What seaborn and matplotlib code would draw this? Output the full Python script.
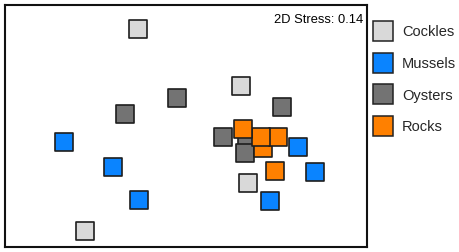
import numpy as np
import pandas as pd
import matplotlib
matplotlib.use("Agg")
import matplotlib.pyplot as plt
from matplotlib.lines import Line2D
import seaborn as sns

# MDS ordination coordinates
groups = ["Cockles", "Mussels", "Oysters", "Rocks"]
colors = ["#d9d9d9", "#0a84ff", "#737373", "#ff8000"]

cockles_x = [-0.48, 0.55, 0.62, -1.01]
cockles_y = [0.97, 0.40, -0.57, -1.05]
mussels_x = [-1.22, -0.73, -0.47, 0.84, 1.29, 1.12]
mussels_y = [-0.16, -0.41, -0.74, -0.75, -0.46, -0.21]
oysters_x = [-0.09, 0.96, -0.61, 0.37, 0.61, 0.59]
oysters_y = [0.28, 0.19, 0.12, -0.11, -0.18, -0.27]
rocks_x = [0.89, 0.77, 0.92, 0.75, 0.57]
rocks_y = [-0.45, -0.22, -0.11, -0.11, -0.03]

stress = 0.14

sns.set_theme(style="white")
plt.rcParams["font.family"] = ["Liberation Sans", "DejaVu Sans"]

df = pd.concat([
    pd.DataFrame({"x": cockles_x, "y": cockles_y, "group": "Cockles"}),
    pd.DataFrame({"x": mussels_x, "y": mussels_y, "group": "Mussels"}),
    pd.DataFrame({"x": oysters_x, "y": oysters_y, "group": "Oysters"}),
    pd.DataFrame({"x": rocks_x, "y": rocks_y, "group": "Rocks"}),
], ignore_index=True)

fig = plt.figure(figsize=(4.59, 2.52), dpi=100)
ax = fig.add_axes([5 / 459, 1 - 247 / 252, 362 / 459, 242 / 252])

palette = dict(zip(groups, colors))
for g in groups:
    sns.scatterplot(data=df[df["group"] == g], x="x", y="y", color=palette[g],
                    marker="s", s=150, edgecolor="#1e1e1e", linewidth=1.2,
                    legend=False, ax=ax)

ax.set_xlim(-1.81, 1.81)
ax.set_ylim(-1.21, 1.21)
ax.set_xticks([])
ax.set_yticks([])
ax.set_xlabel("")
ax.set_ylabel("")
for sp in ax.spines.values():
    sp.set_color("#111111")
    sp.set_linewidth(1.5)

ax.text(0.99, 0.94, f"2D Stress: {stress}", transform=ax.transAxes,
        ha="right", va="center", fontsize=9.3, color="black")

handles = [Line2D([], [], linestyle="none", marker="s", markersize=14,
                  markerfacecolor=c, markeredgecolor="#222222", markeredgewidth=1.1)
           for c in colors]
fig.legend(handles, groups, loc="upper left",
           bbox_to_anchor=(372 / 459, 1 - 25 / 252), bbox_transform=fig.transFigure,
           frameon=False, fontsize=10.5, borderpad=0, borderaxespad=0,
           handlelength=1.45, handletextpad=0.6, labelspacing=1.22)

fig.savefig("out.png", dpi=100)
